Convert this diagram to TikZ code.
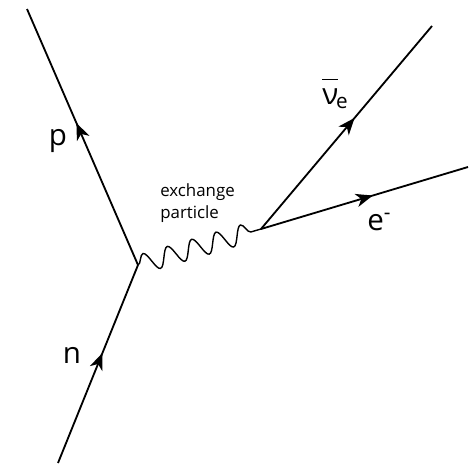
\documentclass[tikz,border=0pt]{standalone}
\usepackage{fontspec}
\setmainfont{Open Sans}
\usetikzlibrary{arrows.meta,decorations.markings,decorations.pathmorphing}

\tikzset{
  fermion/.style={
    line width=1.3pt,
    postaction={decorate},
    decoration={markings,
      mark=at position #1 with {\arrow{Stealth[length=12pt,width=9.5pt,inset=3.5pt]}}}
  },
  boson/.style={
    line width=1pt,
    decorate,
    decoration={snake, segment length=0.635cm, amplitude=0.24cm}
  },
  label/.style={font=\fontsize{21}{25}\selectfont, inner sep=0pt}
}

\begin{document}
\begin{tikzpicture}[x=0.025cm,y=-0.025cm]

\useasboundingbox
(0,0)
rectangle
(474,474);

% vertices
\coordinate (V1) at (138,265);
\coordinate (V2) at (261,229);

% outer ends
\coordinate (P) at (27,9);
\coordinate (N) at (58,463);
\coordinate (Nu) at (432,26);
\coordinate (E) at (468,167);

% neutron
\draw[fermion=0.556]
(N)
--
(V1);

\node[label, anchor=base]
(n)
at (72,363)
{n};

% proton
\draw[fermion=0.555]
(V1)
--
(P);

\node[label, anchor=base]
(p)
at (58,145)
{p};

% exchange particle
\draw[boson]
(V1)
--
(V2);

\node[anchor=north west, inner sep=0pt, align=left,
  font=\fontsize{12}{15.6}\selectfont]
(x)
at (160,183)
{exchange\\particle};

% antineutrino
\draw[fermion=0.547]
(V2)
--
(Nu);

\node[label, anchor=base west]
(nubar)
at (322,104)
{$\overline{\raisebox{0pt}[16.5pt]{ν}}$\kern-1.5pt\textsubscript{e}};

% electron
\draw[fermion=0.54]
(V2)
--
(E);

\node[label, anchor=base west]
(e)
at (367,230)
{e\textsuperscript{-}};

\end{tikzpicture}
\end{document}
